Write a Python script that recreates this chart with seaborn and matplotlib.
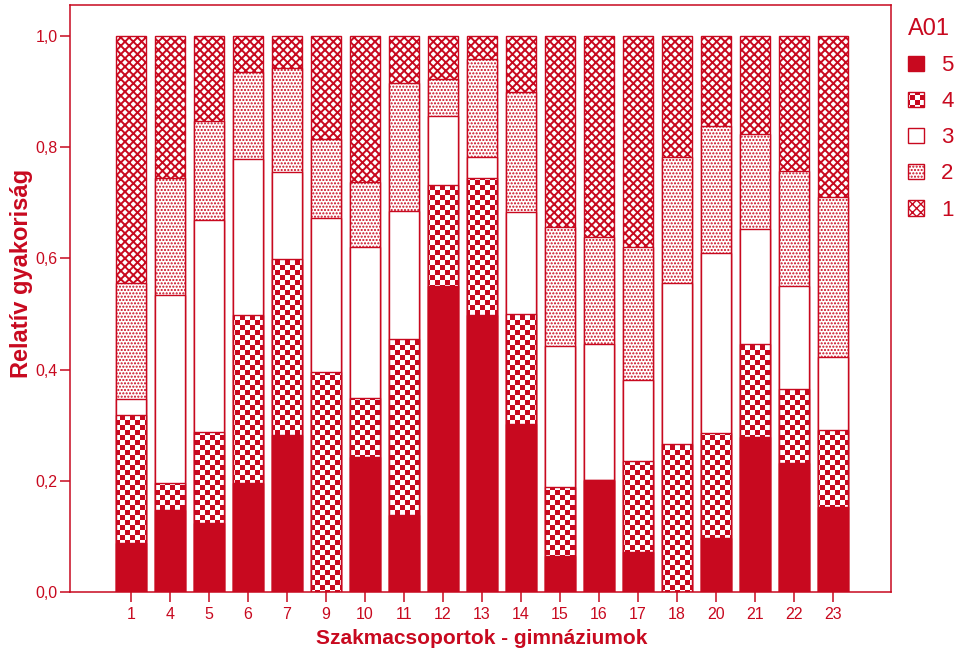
import numpy as np
import matplotlib
matplotlib.use("Agg")
import matplotlib.pyplot as plt
import matplotlib.hatch as mhatch
import matplotlib.patches as patches
from matplotlib.path import Path
import seaborn as sns

# Szakmacsoportok (x categories)
groups = ["1", "4", "5", "6", "7", "9", "10", "11", "12", "13", "14",
          "15", "16", "17", "18", "20", "21", "22", "23"]

# relative shares of the A01 answers per group
a5 = [0.088, 0.147, 0.124, 0.196, 0.282, 0.000, 0.243, 0.139, 0.550, 0.498,
      0.302, 0.065, 0.201, 0.072, 0.000, 0.097, 0.279, 0.232, 0.153]
a4 = [0.230, 0.049, 0.164, 0.302, 0.317, 0.396, 0.106, 0.316, 0.182, 0.247,
      0.198, 0.124, 0.000, 0.164, 0.266, 0.189, 0.168, 0.133, 0.138]
a3 = [0.029, 0.338, 0.381, 0.281, 0.157, 0.277, 0.272, 0.230, 0.124, 0.037,
      0.183, 0.254, 0.246, 0.145, 0.290, 0.324, 0.206, 0.185, 0.131]
a2 = [0.209, 0.211, 0.178, 0.156, 0.186, 0.142, 0.117, 0.230, 0.067, 0.177,
      0.217, 0.214, 0.192, 0.239, 0.226, 0.228, 0.171, 0.207, 0.289]
a1 = [0.444, 0.255, 0.153, 0.065, 0.058, 0.185, 0.262, 0.085, 0.077, 0.041,
      0.100, 0.343, 0.361, 0.380, 0.218, 0.162, 0.176, 0.243, 0.289]

answers = ["5", "4", "3", "2", "1"]
yticks = [0.0, 0.2, 0.4, 0.6, 0.8, 1.0]
yticklabels = ["0,0", "0,2", "0,4", "0,6", "0,8", "1,0"]

RED = "#C8091F"
CHECKER_CELLS = 20  # squares per hatch tile (1 inch)


# matplotlib has no checkerboard hatch -> let 'O' draw one
class CheckerHatch(mhatch.HatchPatternBase):
    def __init__(self, hatch, density):
        self.n = CHECKER_CELLS if "O" in hatch else 0
        self.num_vertices = 5 * (self.n * self.n // 2)

    def set_vertices_and_codes(self, vertices, codes):
        s = 1.0 / self.n
        inset = 1.0 / 72 / 2  # half of the hatch stroke (1 pt)
        k = 0
        for i in range(self.n):
            for j in range(self.n):
                if (i + j) % 2:
                    continue
                x0, y0 = i * s + inset, j * s + inset
                x1, y1 = (i + 1) * s - inset, (j + 1) * s - inset
                vertices[k:k + 5] = [(x0, y0), (x1, y0), (x1, y1), (x0, y1), (x0, y0)]
                codes[k:k + 5] = [Path.MOVETO, Path.LINETO, Path.LINETO,
                                  Path.LINETO, Path.CLOSEPOLY]
                k += 5


mhatch._hatch_types = [CheckerHatch if t is mhatch.LargeCircles else t
                       for t in mhatch._hatch_types]

sns.set_style("ticks")
plt.rcParams["font.family"] = ["Liberation Sans", "DejaVu Sans"]
plt.rcParams["hatch.linewidth"] = 1.0

# fill + hatch (+ hatch line width) for each answer, order 5..1
styles = {
    "5": dict(color=RED, hatch=None, hlw=1.0),
    "4": dict(color="white", hatch="O", hlw=1.0),
    "3": dict(color="white", hatch=None, hlw=1.0),
    "2": dict(color="white", hatch=".....", hlw=1.0),
    "1": dict(color="white", hatch="xxxx", hlw=1.4),
}

shares = np.array([a5, a4, a3, a2, a1])
cum = np.cumsum(shares, axis=0)  # top of each segment

fig = plt.figure(figsize=(9.67, 6.58), dpi=100)
ax = fig.add_axes([70 / 967, 66 / 658, 821 / 967, 587 / 658])

# draw from the tallest cumulative bar (answer 1) down to answer 5
for k in range(len(answers) - 1, -1, -1):
    st = styles[answers[k]]
    with plt.rc_context({"hatch.linewidth": st["hlw"]}):
        sns.barplot(x=groups, y=cum[k], color=st["color"], saturation=1,
                    width=0.78, errorbar=None, edgecolor=RED, linewidth=1.0,
                    hatch=st["hatch"], ax=ax)

ax.set_xlim(-1.564, 19.487)
ax.set_ylim(0, 1.056)
ax.set_yticks(yticks)
ax.set_yticklabels(yticklabels)

for sp in ax.spines.values():
    sp.set_color(RED)
    sp.set_linewidth(1.1)
ax.tick_params(axis="both", colors=RED, labelsize=11.5, length=7.5, width=1.1)
ax.tick_params(axis="y", pad=1.5)
ax.tick_params(axis="x", pad=3)

ax.set_xlabel("Szakmacsoportok - gimnáziumok", color=RED, fontsize=15,
              fontweight="bold")
ax.set_ylabel("Relatív gyakoriság", color=RED, fontsize=17, fontweight="bold")
ax.xaxis.set_label_coords(0.502, -0.063)
ax.yaxis.set_label_coords(-0.045, 0.542)

handles = []
for a in answers:
    with plt.rc_context({"hatch.linewidth": styles[a]["hlw"]}):
        handles.append(patches.Patch(facecolor=styles[a]["color"], edgecolor=RED,
                                     hatch=styles[a]["hatch"], linewidth=1.0))
leg = ax.legend(handles, answers, title="A01", loc="upper left",
                bbox_to_anchor=(908 / 967, 1 - 18 / 658),
                bbox_transform=fig.transFigure, frameon=False, fontsize=16,
                title_fontsize=17, handlelength=0.7, handleheight=0.7,
                handletextpad=0.8, labelspacing=0.68, borderpad=0,
                borderaxespad=0, alignment="left")
for t in leg.get_texts():
    t.set_color(RED)
leg.get_title().set_color(RED)

fig.savefig("out.png", dpi=100)
